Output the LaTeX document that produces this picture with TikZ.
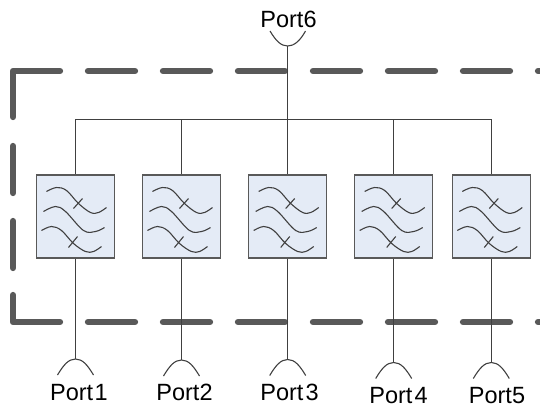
\documentclass[tikz,border=0pt]{standalone}
\usepackage{fontspec}
\usetikzlibrary{calc}
\setmainfont{Liberation Sans}
\definecolor{framegray}{HTML}{595959}
\definecolor{linegray}{HTML}{404040}
\definecolor{boxfill}{HTML}{E4EBF6}
\tikzset{
  x=1pt,y=-1pt,
  framedash/.style={draw=framegray,line width=6.3pt,line cap=round,line join=round},
  wire/.style={draw=linegray,line width=1pt},
  filterbox/.style={draw=framegray,fill=boxfill,line width=1.2pt,minimum width=78pt,minimum height=83pt,inner sep=0pt},
  portlabel/.style={font=\fontsize{23.5}{26}\selectfont,text=black,inner sep=0pt,anchor=base},
  squiggle/.style={draw=linegray,line width=1.1pt},
  pics/filterglyph/.style={code={
    \draw[squiggle] plot[smooth,tension=0.6] coordinates {(-29,-25) (-19,-29) (-9,-26) (3,-13) (15,-4) (23,-4) (31,-9)};
    \draw[squiggle] plot[smooth,tension=0.6] coordinates {(-32,-5) (-20,-10) (-10,-5) (8,14) (20,15) (29,11)};
    \draw[squiggle] plot[smooth,tension=0.6] coordinates {(-34,14) (-24,10) (-14,14) (-2,27) (10,35) (18,35) (26,30)};
    \draw[squiggle] (-2,-8) -- (7,-18);
    \draw[squiggle] (-7,31) -- (2,20);
  }}
}
\begin{document}
\begin{tikzpicture}
\useasboundingbox (0,0) rectangle (540,408);
% dashed frame
\draw[framedash] (13,117) -- (13,71) -- (60,71);
\foreach \s in {88,163,238,313,388,463}{\draw[framedash] (\s,71) -- ++(47,0);}
\draw[framedash] (538,71) -- (540,71);
\draw[framedash] (13,146) -- (13,193);
\draw[framedash] (13,221) -- (13,268);
\draw[framedash] (13,295) -- (13,322) -- (60,322);
\foreach \s in {88,163,238,313,388,463}{\draw[framedash] (\s,322) -- ++(47,0);}
\draw[framedash] (538,322) -- (540,322);
% filters
\foreach \n/\c in {1/75.5,2/181.5,3/287.7,4/393.7,5/491.3}{
  \node[filterbox] (f\n) at (\c,216.5) {};
  \pic at (f\n.center) {filterglyph};
}
% ports
\coordinate (p6) at (287.7,46);
\coordinate (p1) at (75.5,359);
\coordinate (p2) at (181.5,360);
\coordinate (p3) at (287.7,359.5);
\coordinate (p4) at (393.7,362.5);
\coordinate (p5) at (491.3,362.5);
\draw[squiggle] (270,31) .. controls (276,41) and (281,46) .. (p6) .. controls (294,46) and (300,41) .. (305.5,31);
\foreach \n in {1,2,3,4,5}{
  \draw[squiggle] ($(p\n)+(-18,16)$) .. controls ($(p\n)+(-12,6)$) and ($(p\n)+(-7,0)$) .. (p\n) .. controls ($(p\n)+(7,0)$) and ($(p\n)+(12,6)$) .. ($(p\n)+(18,16)$);
}
\node[portlabel] (l6) at (288.5,27) {Port6};
\node[portlabel] (l1) at (79,400) {Port\kern1.5pt 1};
\node[portlabel] (l2) at (184.5,400) {Port2};
\node[portlabel] (l3) at (289.5,400) {Port\kern2pt 3};
\node[portlabel] (l4) at (398.5,403) {Port\kern2pt 4};
\node[portlabel] (l5) at (497,403) {Port5};
% wires
\coordinate (busl) at (f1.north |- 0,119);
\coordinate (busr) at (f5.north |- 0,119);
\draw[wire] (busl) -- (busr);
\draw[wire] (p6) -- (f3.north);
\foreach \n in {1,2,4,5}{
  \draw[wire] (f\n.north |- busl) -- (f\n.north);
}
\foreach \n in {1,2,3,4,5}{
  \draw[wire] (f\n.south) -- (p\n);
}
\end{tikzpicture}
\end{document}
